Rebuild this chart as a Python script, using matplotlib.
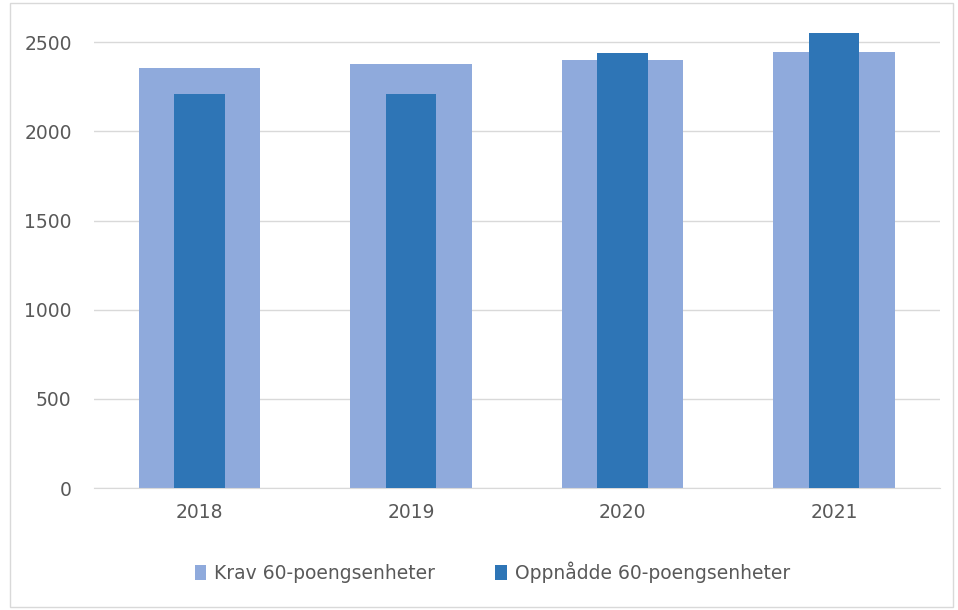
import matplotlib.pyplot as plt
import numpy as np
from matplotlib.patches import Rectangle

years = ["2018", "2019", "2020", "2021"]
krav = [2355, 2380, 2400, 2448]
oppnadde = [2210, 2208, 2438, 2549]

light = "#8FAADC"
dark = "#2E75B6"
grey = "#595959"

fig = plt.figure(figsize=(9.58, 6.10), dpi=100)
ax = fig.add_axes([0.098, 0.2, 0.883, 0.76])

x = np.arange(len(years))
ax.bar(x, krav, width=0.575, color=light, label="Krav 60-poengsenheter", zorder=2)
ax.bar(x, oppnadde, width=0.24, color=dark, label="Oppnådde 60-poengsenheter", zorder=3)

ax.set_xlim(-0.5, 3.5)
ax.set_ylim(0, 2600)
ax.set_yticks(range(0, 2501, 500))
ax.set_xticks(x)
ax.set_xticklabels(years)
ax.yaxis.grid(True, color="#D9D9D9", linewidth=1, zorder=0)
ax.set_axisbelow(True)
for s in ["top", "right", "left"]:
    ax.spines[s].set_visible(False)
ax.spines["bottom"].set_color("#D9D9D9")
ax.tick_params(axis="both", length=0, labelsize=13.5, colors=grey, pad=11)
ax.tick_params(axis="y", pad=16)

leg = fig.legend(loc="center", bbox_to_anchor=(0.514, 0.062), ncol=2, frameon=False,
                 fontsize=13.5, handlelength=0.6, handleheight=0.8, handletextpad=0.45,
                 columnspacing=3.2)
for t in leg.get_texts():
    t.set_color(grey)

fig.patches.append(Rectangle((0.01, 0.005), 0.985, 0.99, transform=fig.transFigure,
                             fill=False, edgecolor="#D9D9D9", linewidth=1))

fig.savefig("out.png", dpi=100)
